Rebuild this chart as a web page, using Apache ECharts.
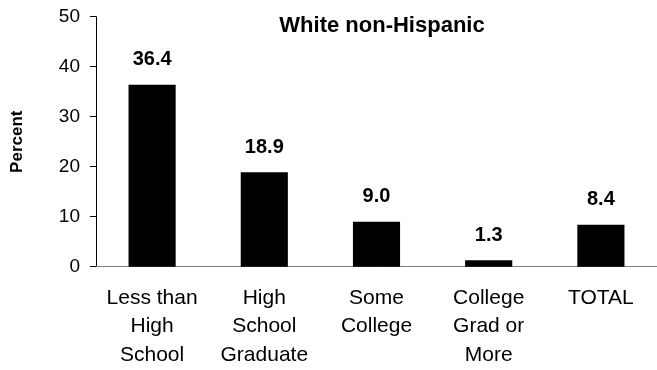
<!DOCTYPE html>
<html>
<head>
<meta charset="utf-8">
<script src="https://cdn.jsdelivr.net/npm/echarts@6/dist/echarts.min.js"></script>
<style>
  html, body { margin: 0; padding: 0; background: #fff; overflow: hidden; }
  #chart { width: 657px; height: 370px; }
</style>
</head>
<body>
<div id="chart"></div>
<script>
const categories = ['Less than\nHigh\nSchool', 'High\nSchool\nGraduate', 'Some\nCollege', 'College\nGrad or\nMore', 'TOTAL'];
const percentValues = [36.4, 18.9, 9.0, 1.3, 8.4];
const yTicks = [0, 10, 20, 30, 40, 50];
const chartTitle = 'White non-Hispanic';
const yAxisTitle = 'Percent';

const FONT = '"Liberation Sans", Arial, sans-serif';
const chart = echarts.init(document.getElementById('chart'), null, { renderer: 'canvas' });

chart.setOption({
  animation: false,
  backgroundColor: '#ffffff',
  title: {
    text: chartTitle,
    left: 377,
    textAlign: 'center',
    top: 10,
    textStyle: { fontFamily: FONT, fontSize: 22, fontWeight: 'bold', color: '#000' }
  },
  grid: { left: 96, top: 16.7, width: 567.5, height: 250 },
  xAxis: {
    type: 'category',
    data: categories,
    axisLine: { show: true, lineStyle: { color: '#808080', width: 1 } },
    axisTick: { show: false },
    axisLabel: {
      interval: 0,
      margin: 17,
      fontFamily: FONT,
      fontSize: 21,
      lineHeight: 28.5,
      color: '#000'
    }
  },
  yAxis: {
    type: 'value',
    min: yTicks[0],
    max: yTicks[yTicks.length - 1],
    interval: 10,
    name: yAxisTitle,
    nameLocation: 'middle',
    nameRotate: 90,
    nameGap: 70,
    nameTextStyle: { fontFamily: FONT, fontSize: 17, fontWeight: 'bold', color: '#000' },
    axisLine: { show: true, lineStyle: { color: '#000', width: 1 } },
    axisTick: { show: true, inside: false, length: 6, lineStyle: { color: '#000' } },
    splitLine: { show: false },
    axisLabel: {
      margin: 16,
      fontFamily: FONT,
      fontSize: 19,
      color: '#000',
      formatter: v => yTicks.includes(v) ? String(v) : ''
    }
  },
  series: [{
    type: 'bar',
    data: percentValues,
    barWidth: '42%',
    itemStyle: { color: '#000' },
    label: {
      show: true,
      position: 'top',
      distance: 15,
      fontFamily: FONT,
      fontSize: 20,
      lineHeight: 20,
      fontWeight: 'bold',
      color: '#000',
      formatter: p => p.value.toFixed(1)
    }
  }]
});
</script>
</body>
</html>
